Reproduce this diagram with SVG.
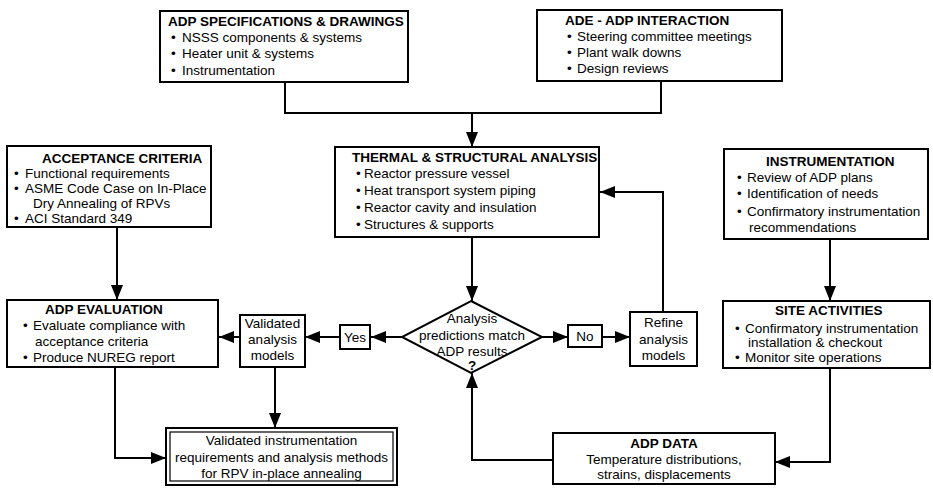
<svg xmlns="http://www.w3.org/2000/svg" width="933" height="489" viewBox="0 0 933 489">
<defs>
<style>
.box{fill:#fff;stroke:#000;stroke-width:2}
.thin{fill:none;stroke:#000;stroke-width:1.2}
.con{fill:none;stroke:#000;stroke-width:2}
text{font-family:"Liberation Sans",Arial,sans-serif;font-size:13.5px;fill:#000}
.t{font-weight:bold}
.c{text-anchor:middle}
</style>
<marker id="ah" viewBox="0 0 15 12" refX="15" refY="6" markerWidth="15" markerHeight="12" orient="auto" markerUnits="userSpaceOnUse"><path d="M0,0 L15,6 L0,12 z" fill="#000"/></marker>
</defs>
<rect width="933" height="489" fill="#fff"/>

<g id="connectors">
<polyline class="con" points="285,82 285,113 661,113 661,81"/>
<line class="con" x1="472" y1="113" x2="472" y2="147" marker-end="url(#ah)"/>
<line class="con" x1="472" y1="237" x2="472" y2="301" marker-end="url(#ah)"/>
<line class="con" x1="117" y1="227" x2="117" y2="300" marker-end="url(#ah)"/>
<line class="con" x1="830" y1="239" x2="830" y2="301" marker-end="url(#ah)"/>
<line class="con" x1="402" y1="337" x2="371" y2="337" marker-end="url(#ah)"/>
<line class="con" x1="340" y1="337" x2="305" y2="337" marker-end="url(#ah)"/>
<line class="con" x1="240" y1="337" x2="219" y2="337" marker-end="url(#ah)"/>
<line class="con" x1="542" y1="337" x2="568" y2="337" marker-end="url(#ah)"/>
<line class="con" x1="602" y1="337" x2="630" y2="337" marker-end="url(#ah)"/>
<polyline class="con" points="663,312 663,192 600,192" marker-end="url(#ah)"/>
<line class="con" x1="275" y1="367" x2="275" y2="428" marker-end="url(#ah)"/>
<polyline class="con" points="115,367 115,458 166,458" marker-end="url(#ah)"/>
<polyline class="con" points="830,368 830,462 775,462" marker-end="url(#ah)"/>
<polyline class="con" points="553,460 472,460 472,373" marker-end="url(#ah)"/>
</g>

<g id="adp-specs">
<rect class="box" x="160" y="11" width="248" height="71"/>
<text class="t" x="168" y="26">ADP SPECIFICATIONS &amp; DRAWINGS</text>
<text x="171" y="42">•</text><text x="182" y="42">NSSS components &amp; systems</text>
<text x="171" y="58">•</text><text x="182" y="58">Heater unit &amp; systems</text>
<text x="171" y="75">•</text><text x="182" y="75">Instrumentation</text>
</g>

<g id="ade-adp">
<rect class="box" x="537" y="10" width="245" height="71"/>
<text class="t" x="565" y="25">ADE - ADP INTERACTION</text>
<text x="567" y="41">•</text><text x="577" y="41">Steering committee meetings</text>
<text x="567" y="57">•</text><text x="577" y="57">Plant walk downs</text>
<text x="567" y="73">•</text><text x="577" y="73">Design reviews</text>
</g>

<g id="thermal">
<rect class="box" x="335" y="147" width="264" height="90"/>
<text class="t" x="352" y="162">THERMAL &amp; STRUCTURAL ANALYSIS</text>
<text x="356" y="178">•</text><text x="364" y="178">Reactor pressure vessel</text>
<text x="356" y="195">•</text><text x="364" y="195">Heat transport system piping</text>
<text x="356" y="212">•</text><text x="364" y="212">Reactor cavity and insulation</text>
<text x="356" y="229">•</text><text x="364" y="229">Structures &amp; supports</text>
</g>

<g id="acceptance">
<rect class="box" x="7" y="146" width="204" height="81"/>
<text class="t" x="42" y="163">ACCEPTANCE CRITERIA</text>
<text x="14" y="178">•</text><text x="25" y="178">Functional requirements</text>
<text x="14" y="193">•</text><text x="25" y="193">ASME Code Case on In-Place</text>
<text x="33" y="208">Dry Annealing of RPVs</text>
<text x="14" y="223">•</text><text x="25" y="223">ACI Standard 349</text>
</g>

<g id="instrumentation">
<rect class="box" x="724" y="149" width="204" height="90"/>
<text class="t" x="766" y="166">INSTRUMENTATION</text>
<text x="737" y="182">•</text><text x="747" y="182">Review of ADP plans</text>
<text x="737" y="198">•</text><text x="747" y="198">Identification of needs</text>
<text x="737" y="216">•</text><text x="747" y="216">Confirmatory instrumentation</text>
<text x="749" y="232">recommendations</text>
</g>

<g id="adp-evaluation">
<rect class="box" x="7" y="300" width="211" height="67"/>
<text class="t" x="45" y="314">ADP EVALUATION</text>
<text x="23" y="330">•</text><text x="33" y="330">Evaluate compliance with</text>
<text x="35" y="346">acceptance criteria</text>
<text x="23" y="362">•</text><text x="33" y="362">Produce NUREG report</text>
</g>

<g id="validated-models">
<rect class="box" x="240" y="315" width="65" height="52"/>
<text class="c" x="272.5" y="328">Validated</text>
<text class="c" x="272.5" y="344">analysis</text>
<text class="c" x="272.5" y="360">models</text>
</g>

<g id="yes">
<rect class="box" x="340" y="325" width="30" height="24"/>
<text class="c" x="355" y="342">Yes</text>
</g>

<g id="decision">
<polygon class="box" points="471,301 542,337 471,373 402,337"/>
<text class="c" x="472" y="323">Analysis</text>
<text class="c" x="472" y="340">predictions match</text>
<text class="c" x="472" y="356">ADP results</text>
<text class="c t" x="472" y="370">?</text>
</g>

<g id="no">
<rect class="box" x="568" y="325" width="34" height="22"/>
<text class="c" x="585" y="341">No</text>
</g>

<g id="refine">
<rect class="box" x="630" y="312" width="67" height="54"/>
<text class="c" x="663.5" y="327">Refine</text>
<text class="c" x="663.5" y="344">analysis</text>
<text class="c" x="663.5" y="360">models</text>
</g>

<g id="site-activities">
<rect class="box" x="723" y="301" width="207" height="67"/>
<text class="t" x="775" y="315">SITE ACTIVITIES</text>
<text x="735" y="333">•</text><text x="745" y="333">Confirmatory instrumentation</text>
<text x="748" y="347">installation &amp; checkout</text>
<text x="735" y="362">•</text><text x="745" y="362">Monitor site operations</text>
</g>

<g id="validated-methods">
<rect class="box" x="166" y="428" width="231" height="57"/>
<rect class="thin" x="170" y="432" width="223" height="49"/>
<text class="c" x="281.5" y="445">Validated instrumentation</text>
<text class="c" x="281.5" y="462">requirements and analysis methods</text>
<text class="c" x="281.5" y="478">for RPV in-place annealing</text>
</g>

<g id="adp-data">
<rect class="box" x="553" y="433" width="222" height="51"/>
<text class="c t" x="664" y="448">ADP DATA</text>
<text class="c" x="664" y="464">Temperature distributions,</text>
<text class="c" x="664" y="479">strains, displacements</text>
</g>
</svg>
